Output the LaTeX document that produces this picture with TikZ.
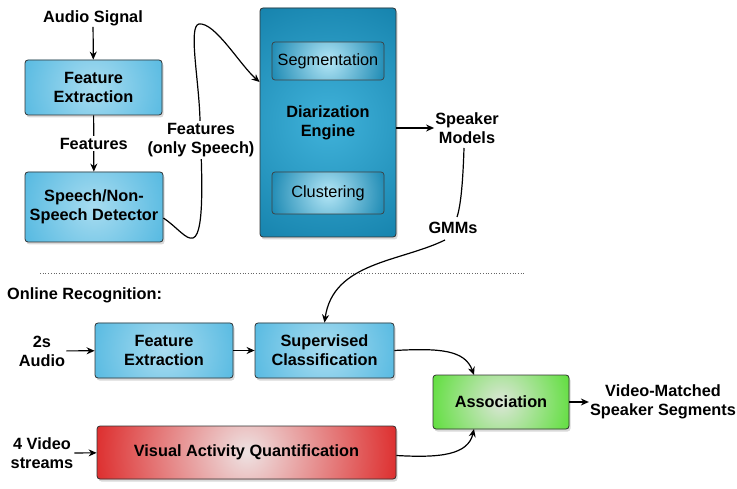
\documentclass[tikz,border=0pt]{standalone}
\usepackage{fontspec}
\setmainfont{Liberation Sans}
\usetikzlibrary{shadows,arrows.meta}
\definecolor{bluein}{HTML}{A8DCF0}
\definecolor{blueout}{HTML}{55B9E1}
\definecolor{diain}{HTML}{40B2DA}
\definecolor{diaout}{HTML}{1683AD}
\definecolor{segin}{HTML}{B4E6F6}
\definecolor{segout}{HTML}{1A88B2}
\definecolor{redin}{HTML}{EEE2E2}
\definecolor{redout}{HTML}{DC1F1F}
\definecolor{grnin}{HTML}{DCE6D8}
\definecolor{grnout}{HTML}{58DE34}
\tikzset{
  txt/.style={font=\fontsize{16.3}{19}\selectfont\bfseries, align=center, inner sep=1pt},
  rshade/.style n args={3}{fill=#2, path picture={\shade[inner color=#1, outer color=#2] (path picture bounding box.center) circle (#3);}},
  boxbase/.style={draw=black!80, line width=0.8pt, rounded corners=3pt, align=center,
     font=\fontsize{16.3}{19}\selectfont\bfseries,
     drop shadow={shadow xshift=1.5pt, shadow yshift=-2.5pt, opacity=0.3}},
  bluebox/.style={boxbase, rshade={bluein}{blueout}{78pt}},
  diabox/.style={boxbase, rshade={diain}{diaout}{135pt}},
  segbox/.style={draw=black!75, line width=0.7pt, rounded corners=3pt, rshade={segin}{segout}{60pt},
     font=\fontsize{16.3}{19}\selectfont},
  redbox/.style={boxbase, rshade={redin}{redout}{165pt}},
  grnbox/.style={boxbase, rshade={grnin}{grnout}{78pt}},
  conn/.style={line width=1.2pt, -{Stealth[length=8pt,width=7pt]}},
  plainconn/.style={line width=1.2pt}
}
\begin{document}
\begin{tikzpicture}[x=1pt,y=-1pt]
\useasboundingbox (0,0) rectangle (737,489);
% top section
\node[txt] (audio) at (93,18) {Audio Signal};
\node[bluebox, minimum width=137pt, minimum height=55pt] (fe1) at (93.5,87.5) {Feature\\Extraction};
\node[bluebox, minimum width=138pt, minimum height=70pt] (sp) at (94,207) {Speech/Non-\\Speech Detector};
\node[diabox, minimum width=136pt, minimum height=229pt] (dia) at (328,122.5) {Diarization\\Engine};
\node[segbox, minimum width=112pt, minimum height=38pt] (seg) at (328,61) {Segmentation};
\node[segbox, minimum width=112pt, minimum height=42pt] (clu) at (328,193) {Clustering};
\node[txt] (spm) at (467,128) {Speaker\\Models};
\node[txt] (gmm) at (453,228) {GMMs};

\draw[conn] (audio) -- (fe1);
\draw[conn] (fe1) -- (sp) node[txt, midway, fill=white, inner sep=2pt] (feat) {Features};
\coordinate (c1) at ([yshift=-11pt]sp.east);
\coordinate (c2) at ([yshift=40.5pt]dia.west);
\draw[conn] (c1) .. controls (178,228) and (186,240) .. (193,238)
   .. controls (206,234) and (201,160) .. (200,120)
   .. controls (199,80) and (188,26) .. (199,24)
   .. controls (215,22) and (240,65) .. (c2);
\node[txt, fill=white, inner sep=2pt] (fos) at (201,140) {Features\\(only Speech)};
\draw[conn] (dia.east |- spm.west) -- (spm.west);
\coordinate (s1) at (464,148);
\coordinate (s2) at (457,217);
\draw[plainconn] (s1) .. controls (463,180) and (461,205) .. (s2);

% dotted separator
\coordinate (d1) at (40,273);
\coordinate (d2) at (524,273);
\draw[dotted, line width=0.7pt, black!60] (d1) -- (d2);

% bottom section
\node[txt, anchor=west] (online) at (6,295) {Online Recognition:};
\node[txt] (aud2) at (42,351) {2s\\Audio};
\node[bluebox, minimum width=138pt, minimum height=55pt] (fe2) at (164,350.5) {Feature\\Extraction};
\node[bluebox, minimum width=139pt, minimum height=55pt] (sc) at (324.5,350.5) {Supervised\\Classification};
\node[txt] (vid) at (42,453) {4 Video\\streams};
\node[redbox, minimum width=299pt, minimum height=53pt] (vaq) at (246.5,452.5) {Visual Activity Quantification};
\node[grnbox, minimum width=136pt, minimum height=54pt] (asc) at (501,402) {Association};
\node[txt] (vms) at (663,402) {Video-Matched\\Speaker Segments};

\coordinate (g1) at (445,240);
\draw[conn] (g1) .. controls (400,262) and (333,262) .. (sc.north);
\draw[conn] (aud2) -- (fe2);
\draw[conn] (fe2) -- (sc);
\draw[conn] (vid) -- (vaq);
\coordinate (a1) at (474,375);
\coordinate (a2) at (474,429);
\draw[conn] (sc.east) .. controls (440,348) and (465,350) .. (a1);
\draw[conn] ([yshift=-3pt]vaq.east) .. controls (440,458) and (468,455) .. (a2);
\draw[conn] (asc) -- (vms);
\end{tikzpicture}
\end{document}
